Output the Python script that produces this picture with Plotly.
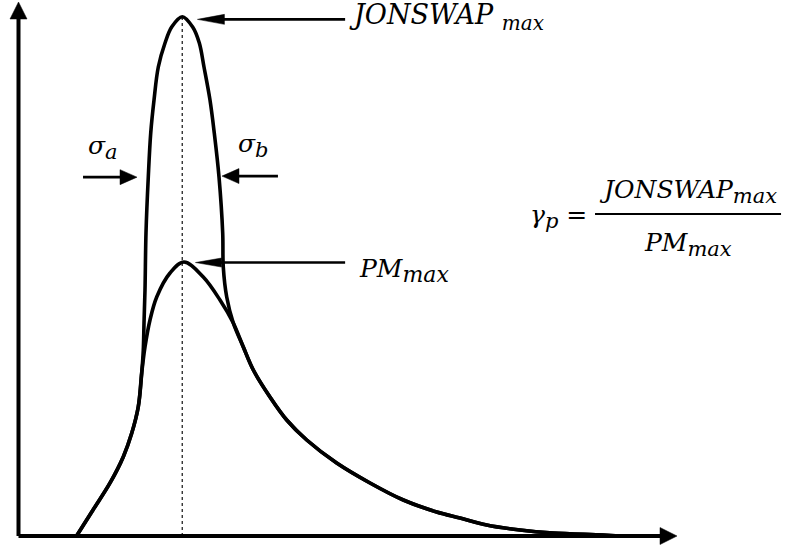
import math
import plotly.graph_objects as go

# Pierson-Moskowitz spectrum (frequency, spectral density), arbitrary units
pm_freq = [0.881, 1.131, 1.390, 1.592, 1.719, 1.819, 1.871, 1.921, 1.997, 2.099,
           2.301, 2.513, 2.806, 3.060, 3.262, 3.414, 3.566, 3.819, 4.073, 4.377,
           4.832, 5.338, 5.844, 6.351, 6.705, 7.110, 7.616, 8.117, 8.876, 9.134]
pm_dens = [0.000, 0.487, 0.993, 1.485, 1.923, 2.421, 3.052, 3.539, 4.045, 4.476,
           4.925, 5.131, 4.850, 4.419, 3.989, 3.539, 3.109, 2.603, 2.172, 1.798,
           1.367, 0.993, 0.674, 0.449, 0.337, 0.206, 0.112, 0.056, 0.019, 0.000]

# JONSWAP spectrum (same frequency units)
js_freq = [0.881, 1.131, 1.390, 1.592, 1.719, 1.819, 1.871, 1.895, 1.906, 1.921,
           1.936, 1.971, 2.008, 2.058, 2.123, 2.225, 2.326, 2.487, 2.645, 2.746,
           2.817, 2.908, 2.973, 3.045, 3.101, 3.110, 3.162, 3.262, 3.414, 3.566,
           3.819, 4.073, 4.377, 4.832, 5.338, 5.844, 6.351, 6.705, 7.110, 7.616,
           8.117, 8.876, 9.134]
js_dens = [0.000, 0.487, 0.993, 1.485, 1.923, 2.421, 3.052, 3.483, 3.989, 4.607,
           5.674, 6.723, 7.547, 8.165, 8.783, 9.232, 9.532, 9.725, 9.532, 9.232,
           8.783, 8.165, 7.547, 6.723, 5.674, 5.037, 4.476, 3.989, 3.539, 3.109,
           2.603, 2.172, 1.798, 1.367, 0.993, 0.674, 0.449, 0.337, 0.206, 0.112,
           0.056, 0.019, 0.000]

# axis extents (arrow tips)
x_axis_end = 10.0
y_axis_end = 10.0

# pixel size of one data unit
PX_X = 65.85
PX_Y = 53.4

fig = go.Figure()

for fx, sy in ((pm_freq, pm_dens), (js_freq, js_dens)):
    fig.add_trace(go.Scatter(x=fx, y=sy, mode="lines",
                             line=dict(color="black", width=3.6, shape="spline", smoothing=1.0),
                             hoverinfo="skip", showlegend=False))

i_peak = js_dens.index(max(js_dens))
f_peak = js_freq[i_peak]
js_max = js_dens[i_peak]
pm_max = max(pm_dens)

shapes = []

# dotted line through the peak frequency
shapes.append(dict(type="line", x0=f_peak, x1=f_peak, y0=0, y1=js_max,
                   line=dict(color="#333333", width=1.4, dash="dot"), layer="below"))


def arrow(xt, yt, xh, yh, head_len, head_half, width):
    """Straight arrow from tail to tip; head sizes are in pixels."""
    dxp = (xh - xt) * PX_X
    dyp = (yh - yt) * PX_Y
    n = math.hypot(dxp, dyp)
    ux, uy = dxp / n, dyp / n
    bx = xh - ux * head_len / PX_X
    by = yh - uy * head_len / PX_Y
    px, py = -uy, ux
    p1 = (bx + px * head_half / PX_X, by + py * head_half / PX_Y)
    p2 = (bx - px * head_half / PX_X, by - py * head_half / PX_Y)
    shapes.append(dict(type="line", x0=xt, y0=yt, x1=bx + ux * 2 / PX_X, y1=by + uy * 2 / PX_Y,
                       line=dict(color="black", width=width)))
    shapes.append(dict(type="path",
                       path=f"M{xh},{yh} L{p1[0]},{p1[1]} L{p2[0]},{p2[1]} Z",
                       fillcolor="black", line=dict(color="black", width=0.5)))


# coordinate axes
arrow(0, 0, 0, y_axis_end, 17, 8.5, 4)
arrow(0, 0, x_axis_end, 0, 17, 8.5, 4)

# pointers to the two maxima
arrow(4.96, js_max - 0.05, f_peak + 0.23, js_max - 0.05, 27, 5, 2.6)
arrow(4.96, pm_max - 0.01, f_peak + 0.2, pm_max - 0.01, 26, 4.5, 2.6)

# width markers
arrow(0.98, 6.72, 1.80, 6.72, 17, 7.5, 2.8)
arrow(3.94, 6.74, 3.09, 6.74, 17, 7.5, 2.8)

# fraction bar
shapes.append(dict(type="line", x0=8.755, x1=11.58, y0=6.03, y1=6.03,
                   line=dict(color="black", width=2)))


def sub(s, size):
    return f"<sub><span style='font-size:{size}px'>{s}</span></sub>"


font = dict(family="DejaVu Serif", size=25, color="black", style="italic")

annotations = [
    dict(x=4.99, y=9.72, text="JONSWAP " + sub("max", 20), xanchor="left", yanchor="middle",
         font=dict(font, size=27)),
    dict(x=1.28, y=7.28, text="σ" + sub("a", 21), xanchor="center", yanchor="middle"),
    dict(x=3.57, y=7.32, text="σ" + sub("b", 21), xanchor="center", yanchor="middle"),
    dict(x=5.14, y=4.97, text="PM" + sub("max", 22), xanchor="left", yanchor="middle"),
    dict(x=8.66, y=5.98, text="γ" + sub("p", 21) + " =", xanchor="right", yanchor="middle"),
    dict(x=10.17, y=6.45, text="JONSWAP" + sub("max", 21), xanchor="center", yanchor="middle"),
    dict(x=10.17, y=5.45, text="PM" + sub("max", 21), xanchor="center", yanchor="middle"),
]
for a in annotations:
    a.update(xref="x", yref="y", showarrow=False)
    a.setdefault("font", font)

fig.update_layout(
    width=788, height=551,
    margin=dict(l=0, r=0, t=0, b=0),
    paper_bgcolor="white", plot_bgcolor="white",
    xaxis=dict(range=[-18.5 / PX_X, 769.5 / PX_X], visible=False, fixedrange=True),
    yaxis=dict(range=[-15 / PX_Y, 536 / PX_Y], visible=False, fixedrange=True),
    shapes=shapes, annotations=annotations, showlegend=False,
)

fig.write_html("out.html")
